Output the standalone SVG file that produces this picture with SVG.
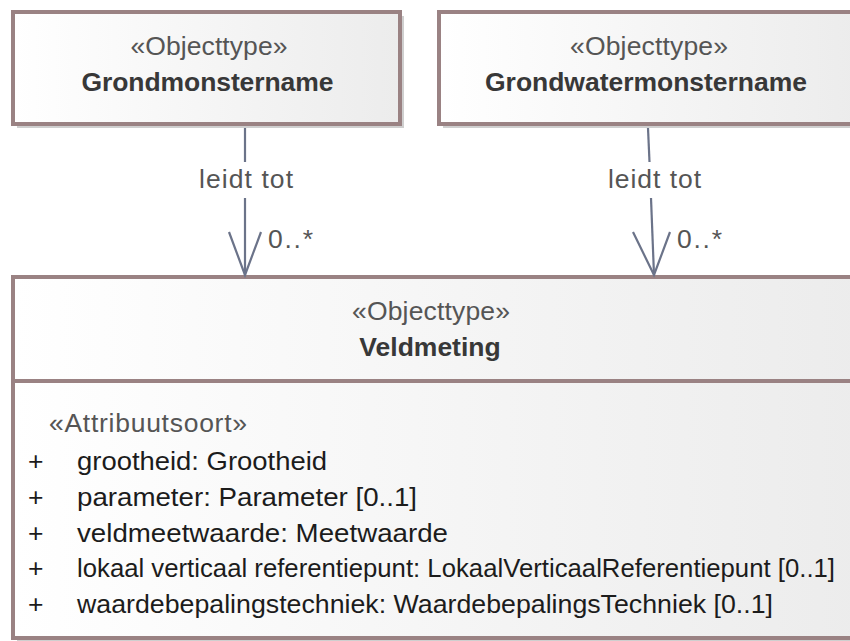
<svg xmlns="http://www.w3.org/2000/svg" width="850" height="641" viewBox="0 0 850 641">
<defs>
<linearGradient id="g" x1="0" y1="0" x2="1" y2="0">
<stop offset="0" stop-color="#ffffff"/>
<stop offset="1" stop-color="#ececec"/>
</linearGradient>
<style>
.box{fill:url(#g);stroke:#9a8283;stroke-width:4}
.sh{fill:#cfcfcf}
text{font-family:"Liberation Sans",Arial,sans-serif}
.st{font-size:26.5px;fill:#555;text-anchor:middle}
.nm{font-size:26.5px;fill:#383838;font-weight:bold;text-anchor:middle}
.lb{font-size:26.5px;fill:#555}
.at{font-size:26.5px;fill:#1c1c1c}
.ln{stroke:#6b7389;stroke-width:2.2;fill:none}
</style>
</defs>
<rect width="850" height="641" fill="#fff"/>
<g id="Grondmonstername">
<rect class="sh" x="17" y="16" width="387" height="112"/>
<rect class="box" x="13" y="12" width="387" height="112"/>
<text class="st" x="209" y="55" textLength="157">«Objecttype»</text>
<text class="nm" x="207.5" y="91" textLength="252">Grondmonstername</text>
</g>
<g id="Grondwatermonstername">
<rect class="sh" x="443" y="16" width="420" height="112"/>
<rect class="box" x="439" y="12" width="420" height="112"/>
<text class="st" x="649" y="55" textLength="158">«Objecttype»</text>
<text class="nm" x="646" y="91" textLength="322">Grondwatermonstername</text>
</g>
<g id="Veldmeting">
<rect class="sh" x="17" y="281" width="850" height="362"/>
<rect class="box" x="13" y="277" width="850" height="361"/>
<line x1="13" y1="381" x2="863" y2="381" stroke="#9a8283" stroke-width="4"/>
<text class="st" x="431" y="320" textLength="158">«Objecttype»</text>
<text class="nm" x="430" y="356">Veldmeting</text>
<text class="lb" x="49" y="432" textLength="198">«Attribuutsoort»</text>
<g class="at">
<text x="28" y="470">+</text>
<text x="28" y="506">+</text>
<text x="28" y="542">+</text>
<text x="28" y="577">+</text>
<text x="28" y="613">+</text>
<text x="77" y="470" textLength="250" lengthAdjust="spacingAndGlyphs">grootheid: Grootheid</text>
<text x="77" y="506" textLength="340" lengthAdjust="spacingAndGlyphs">parameter: Parameter [0..1]</text>
<text x="77" y="542" textLength="371" lengthAdjust="spacingAndGlyphs">veldmeetwaarde: Meetwaarde</text>
<text x="77" y="577" font-size="25.6" textLength="758" lengthAdjust="spacingAndGlyphs">lokaal verticaal referentiepunt: LokaalVerticaalReferentiepunt [0..1]</text>
<text x="77" y="613" textLength="696" lengthAdjust="spacingAndGlyphs">waardebepalingstechniek: WaardebepalingsTechniek [0..1]</text>
</g>
</g>
<g id="connectors">
<line class="ln" x1="245" y1="128" x2="245" y2="162"/>
<line class="ln" x1="245" y1="198" x2="245" y2="275"/>
<polyline class="ln" points="229,232 245,275 261,232"/>
<text class="lb" x="199" y="188" textLength="94">leidt tot</text>
<text class="lb" x="268" y="248" textLength="45">0..*</text>
<line class="ln" x1="648" y1="128" x2="649.5" y2="162"/>
<line class="ln" x1="651" y1="198" x2="654" y2="275"/>
<polyline class="ln" points="633,232 654,275 670,232"/>
<text class="lb" x="608" y="188" textLength="93">leidt tot</text>
<text class="lb" x="677" y="248" textLength="45">0..*</text>
</g>
</svg>
